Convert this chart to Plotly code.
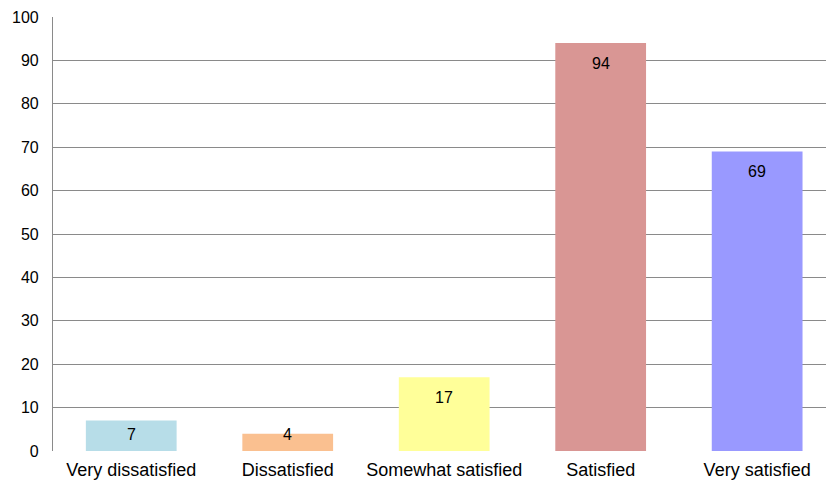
import plotly.graph_objects as go

categories = ["Very dissatisfied", "Dissatisfied", "Somewhat satisfied", "Satisfied", "Very satisfied"]
values = [7, 4, 17, 94, 69]
colors = ["#b7dde8", "#fac090", "#ffff99", "#d99694", "#9999ff"]
y_ticks = list(range(0, 101, 10))

FONT = "Liberation Sans, Arial, sans-serif"

fig = go.Figure()
fig.add_trace(go.Bar(
    x=categories, y=values, marker=dict(color=colors, line=dict(width=0)),
    width=0.58, hoverinfo="skip",
))

for c, v in zip(categories, values):
    fig.add_annotation(x=c, y=max(v - 4.6, 3.9), text=str(v), showarrow=False,
                       font=dict(family=FONT, size=16, color="#000000"),
                       xanchor="center", yanchor="middle")

fig.update_layout(
    width=826, height=483,
    margin=dict(l=53, r=0, t=17, b=32),
    paper_bgcolor="white", plot_bgcolor="white",
    showlegend=False, bargap=0.42,
    font=dict(family=FONT, size=16, color="#000000"),
)
fig.update_xaxes(
    range=[-0.5, 4.44], showgrid=False, showline=False, ticks="",
    tickfont=dict(family=FONT, size=18, color="#000000"),
    ticklabelstandoff=6,
    layer="below traces",
)
fig.update_yaxes(
    range=[0, 100], tickvals=y_ticks, showgrid=True, gridcolor="#8a8a8a", gridwidth=1.2,
    showline=True, linecolor="#8a8a8a", linewidth=1.2, ticks="", zeroline=False,
    ticklabelstandoff=10, tickfont=dict(family=FONT, size=16, color="#000000"),
    layer="below traces",
)

fig.write_html("out.html")
